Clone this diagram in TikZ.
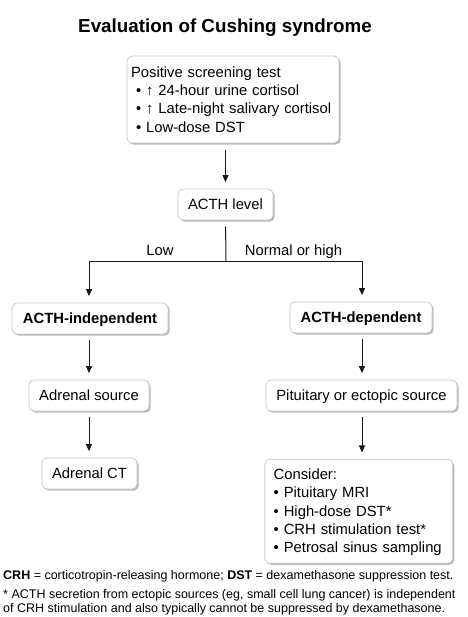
\documentclass[tikz,border=0pt]{standalone}
\usepackage{fontspec}
\setmainfont{Liberation Sans}
\usetikzlibrary{arrows.meta,shadows}
\newcommand{\bodyfont}{\fontsize{14.8}{18.3}\selectfont}
\newcommand{\notefont}{\fontsize{12.5}{14}\selectfont}
\begin{document}
\begin{tikzpicture}[x=1pt,y=-1pt,
  box/.style={draw=black!22, line width=0.7pt, rounded corners=5pt, fill=white,
    drop shadow={shadow xshift=1.6pt, shadow yshift=-1.6pt, fill=black!50, opacity=0.55},
    font=\bodyfont, inner sep=0pt, minimum height=31pt, text height=10.6pt, text depth=0pt},
  listbox/.style={box, align=left, text height=, text depth=, inner xsep=0pt},
  conn/.style={draw=black!90, line width=1pt},
  arr/.style={conn, -{Triangle[length=7pt,width=6pt]}, shorten >=6.5pt},
  lbl/.style={font=\bodyfont, inner sep=0pt, anchor=base},
  note/.style={font=\notefont, inner sep=0pt, anchor=base west}]
\useasboundingbox (0,0) rectangle (467,617);
\fill[white] (0,0) rectangle (467,617);
% title
\node[inner sep=0pt, anchor=base, font=\fontsize{18.8}{22}\selectfont\bfseries] (title) at (225,33) {Evaluation of Cushing syndrome};
% boxes
\node[listbox, minimum width=212pt, minimum height=87pt, text width=204pt, inner xsep=4pt] (top) at (233,99.5)
  {Positive screening test\\
   \hspace*{5pt}• ↑ 24-hour urine cortisol\\
   \hspace*{5pt}• ↑ Late-night salivary cortisol\\
   \hspace*{5pt}• Low-dose DST};
\node[box, minimum width=95pt] (acth) at (225.5,204.5) {ACTH level};
\node[box, minimum width=156pt, font=\bodyfont\bfseries] (indep) at (90,318.5) {ACTH-independent};
\node[box, minimum width=142pt, font=\bodyfont\bfseries] (dep) at (361,317.5) {ACTH-dependent};
\node[box, minimum width=120pt] (adsrc) at (89,395.5) {Adrenal source};
\node[box, minimum width=191pt] (pit) at (361.5,395.5) {Pituitary or ectopic source};
\node[box, minimum width=95pt] (ct) at (89.5,473.5) {Adrenal CT};
\node[listbox, minimum width=188pt, minimum height=104pt, text width=170pt, inner xsep=9pt] (cons) at (358.7,511.3)
  {\rule{0pt}{13pt}Consider:\\
   • Pituitary MRI\\
   • High-dose DST*\\
   • CRH stimulation test*\\
   • Petrosal sinus sampling};
% connectors
\coordinate (split) at (226,261);
\coordinate (bl) at (89,261);
\coordinate (br) at (362,261);
\draw[arr, shorten <=7pt] (top.south -| acth.north) -- (acth.north);
\draw[conn, shorten <=6pt] (acth.south) -- (split);
\draw[conn] (bl) -- (br);
\draw[arr] (bl) -- (bl |- indep.north);
\draw[arr] (br) -- (br |- dep.north);
\draw[arr, shorten <=6pt] (bl |- indep.south) -- (bl |- adsrc.north);
\draw[arr, shorten <=6pt] (br |- dep.south) -- (br |- pit.north);
\draw[arr, shorten <=6pt] (bl |- adsrc.south) -- (bl |- ct.north);
\draw[arr, shorten <=6pt] (br |- pit.south) -- (br |- cons.north);
% branch labels
\node[lbl] (low) at (160,255.5) {Low};
\node[lbl] (high) at (293.5,255.5) {Normal or high};
% footnotes
\node[note] (abbr) at (3,579) {\textbf{CRH} = corticotropin-releasing hormone; \textbf{DST} = dexamethasone suppression test.};
\node[note] (star1) at (3,598) {* ACTH secretion from ectopic sources (eg, small cell lung cancer) is independent};
\node[note] (star2) at (3,612) {of CRH stimulation and also typically cannot be suppressed by dexamethasone.};
\end{tikzpicture}
\end{document}
